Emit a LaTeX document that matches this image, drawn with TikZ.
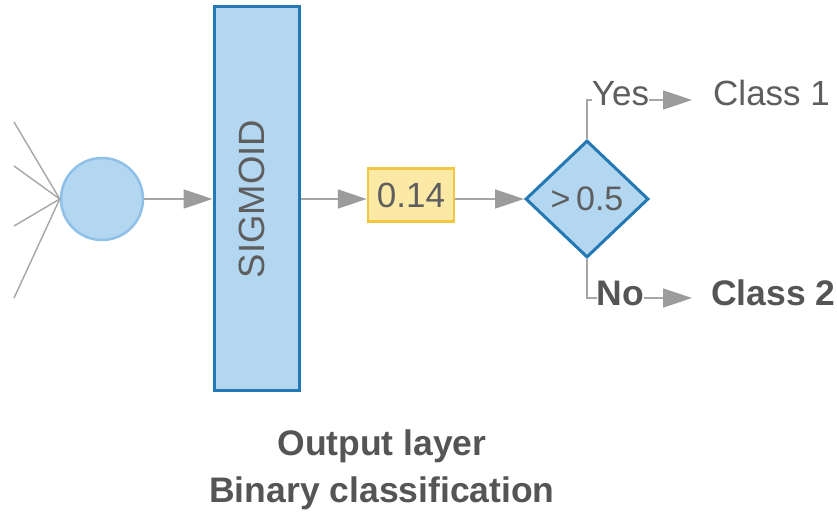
\documentclass[tikz,border=0pt]{standalone}
\usepackage{fontspec}
\setmainfont{Liberation Sans}
\usetikzlibrary{shapes.geometric,arrows.meta}
\definecolor{txtc}{HTML}{5E5E5E}
\definecolor{boldc}{HTML}{555555}
\definecolor{linec}{HTML}{A6A6A6}
\definecolor{tipc}{HTML}{9C9C9C}
\definecolor{bluefill}{HTML}{B3D6F1}
\definecolor{blueedge}{HTML}{2478B4}
\definecolor{circedge}{HTML}{8EC0E8}
\definecolor{yelfill}{HTML}{FDE9A6}
\definecolor{yeledge}{HTML}{F5C644}
\begin{document}
\begin{tikzpicture}[x=1pt,y=-1pt,
  font=\fontsize{35}{40}\selectfont,
  every node/.style={text=txtc},
  conn/.style={draw=linec, line width=1.4pt},
  arr/.style={conn, -{Triangle[length=29pt,width=19pt,color=tipc]}},
  bluebox/.style={draw=blueedge, line width=3pt, fill=bluefill},
  lbl/.style={inner sep=0pt, anchor=base},
  boldlbl/.style={lbl, font=\fontsize{35.5}{40}\selectfont\bfseries, text=boldc}
]
\fill[white] (0,0) rectangle (837,513);
\useasboundingbox (0,0) rectangle (837,513);

% neuron
\node[circle, draw=circedge, line width=2.5pt, fill=bluefill, minimum size=82pt, inner sep=0pt] (circ) at (102,199) {};
\coordinate (in1) at (14,122);
\coordinate (in2) at (14,166);
\coordinate (in3) at (14,226);
\coordinate (in4) at (14,298);
\foreach \i in {1,2,3,4} \draw[conn] (in\i) -- (circ.west);

% sigmoid
\node[bluebox, rectangle, minimum width=85pt, minimum height=383pt, inner sep=0pt] (sig) at (256.5,198.5) {};
\node[rotate=90, inner sep=0pt, font=\fontsize{36.5}{40}\selectfont] (sigtxt) at (251.5,199) {SIGMOID};

% value box
\node[rectangle, draw=yeledge, fill=yelfill, line width=2.5pt, minimum width=86pt, minimum height=53pt, inner sep=0pt] (val) at (411,195) {0.14};

% decision
\node[diamond, bluebox, minimum width=123pt, minimum height=117pt, inner sep=0pt, font=\fontsize{34}{40}\selectfont] (dia) at (587,199) {>\,0.5};

\draw[arr] (circ.east) -- (sig.west |- circ);
\draw[arr] (sig.east |- circ) -- (val.west |- circ);
\draw[arr] (val.east |- circ) -- (dia.west);

% yes branch
\node[lbl] (yes) at (620.5,106) {Yes};
\node[lbl, anchor=base west] (c1) at (713,106) {Class 1};
\coordinate (ycorner) at (587,100);
\draw[conn] (dia.north) -- (ycorner) -- (yes.west |- ycorner);
\draw[arr, shorten >=21pt] (yes.east |- ycorner) -- (c1.west |- ycorner);

% no branch
\node[boldlbl] (no) at (620.5,305) {No};
\node[boldlbl, anchor=base west] (c2) at (711,305) {Class 2};
\coordinate (ncorner) at (587,298);
\draw[conn] (dia.south) -- (ncorner) -- (no.west |- ncorner);
\draw[arr, shorten >=19pt] (no.east |- ncorner) -- (c2.west |- ncorner);

% caption
\node[boldlbl] (cap1) at (382,455) {Output layer};
\node[boldlbl] (cap2) at (382,502) {Binary classification};
\end{tikzpicture}
\end{document}
